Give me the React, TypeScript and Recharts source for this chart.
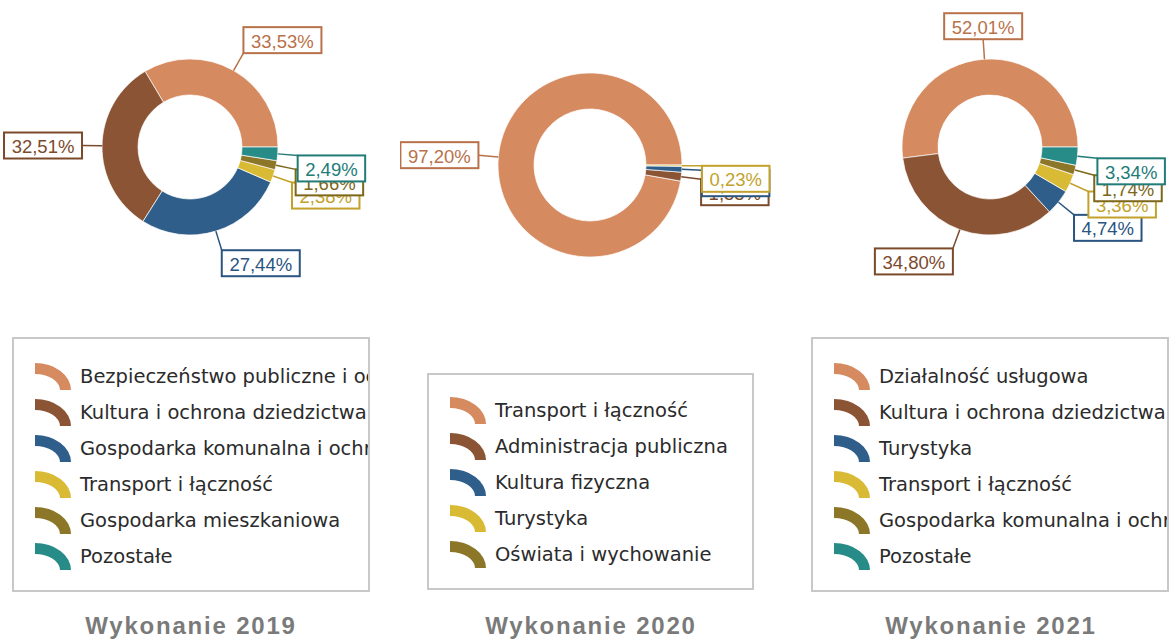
import React from 'react';
import { PieChart, Pie, Cell, Legend } from 'recharts';

// shares in % per year
const names2019 = [
  'Bezpieczeństwo publiczne i ochrona przeciwpożarowa',
  'Kultura i ochrona dziedzictwa narodowego',
  'Gospodarka komunalna i ochrona środowiska',
  'Transport i łączność',
  'Gospodarka mieszkaniowa',
  'Pozostałe',
];
const values2019 = [33.53, 32.51, 27.44, 2.38, 1.66, 2.49];

const names2020 = [
  'Transport i łączność',
  'Administracja publiczna',
  'Kultura fizyczna',
  'Turystyka',
  'Oświata i wychowanie',
];
const values2020 = [97.2, 1.55, 1.02, 0.23, 0];

const names2021 = [
  'Działalność usługowa',
  'Kultura i ochrona dziedzictwa narodowego',
  'Turystyka',
  'Transport i łączność',
  'Gospodarka komunalna i ochrona środowiska',
  'Pozostałe',
];
const values2021 = [52.01, 34.8, 4.74, 3.36, 1.74, 3.34];

const titles = ['Wykonanie 2019', 'Wykonanie 2020', 'Wykonanie 2021'];

const sliceColors = ['#D68A60', '#8B5535', '#2F5E8A', '#D9BA35', '#8C7628', '#278C87'];
const labelColors = ['#B9714A', '#7B4A2B', '#2A5580', '#C2A22C', '#7D6719', '#217C77'];

const fmt = (v: number) => v.toFixed(2).replace('.', ',') + '%';

const renderLabel = (props: any) => {
  const { cx, cy, midAngle, outerRadius, value, index } = props;
  if (!value) return null;
  const rad = Math.PI / 180;
  const cos = Math.cos(-midAngle * rad);
  const sin = Math.sin(-midAngle * rad);
  const sx = cx + outerRadius * cos;
  const sy = cy + outerRadius * sin;
  const ex = cx + (outerRadius + 20) * cos;
  const ey = cy + (outerRadius + 20) * sin;
  const text = fmt(value);
  const w = text.length * 10.5 + 15;
  const h = 26;
  const up = -sin;
  const left = cos > 0.25 ? ex : cos < -0.25 ? ex - w : ex - w / 2;
  const top = up > 0.5 ? ey - h : up < -0.3 ? ey : cos > 0 ? ey : ey - h / 2;
  const col = labelColors[index];
  return (
    <g>
      <line x1={sx} y1={sy} x2={ex} y2={ey} stroke={col} strokeWidth={1.5} />
      <rect x={left} y={top} width={w} height={h} fill="#fff" stroke={col} strokeWidth={2} />
      <text
        x={left + w / 2}
        y={top + h / 2 + 1}
        textAnchor="middle"
        dominantBaseline="central"
        fill={col}
        fontSize={18.5}
        fontFamily="'Liberation Sans', Arial, sans-serif"
      >
        {text}
      </text>
    </g>
  );
};

const LegendIcon = ({ color }: { color: string }) => (
  <svg width={36} height={27} style={{ flex: 'none' }}>
    <path d="M0,0 A36,27 0 0 1 36,27 L25,27 A25,16 0 0 0 0,11 Z" fill={color} />
  </svg>
);

const LegendBox = ({ names, w, h, padTop }: { names: string[]; w: number; h: number; padTop: number }) => (
  <div
    style={{
      boxSizing: 'border-box',
      width: w,
      height: h,
      border: '2px solid #c8c8c8',
      paddingTop: padTop,
      paddingLeft: 21,
      overflow: 'hidden',
      background: '#fff',
    }}
  >
    {names.map((n, i) => (
      <div key={n} style={{ display: 'flex', alignItems: 'center', height: 36, whiteSpace: 'nowrap' }}>
        <LegendIcon color={sliceColors[i]} />
        <span style={{ marginLeft: 9, fontSize: 19.5, fontFamily: "'DejaVu Sans', Verdana, sans-serif", color: '#2b2b2b' }}>
          {n}
        </span>
      </div>
    ))}
  </div>
);

const charts = [
  { names: names2019, values: values2019, left: 0, cy: 147, ir: 52, or: 88, lx: 12, ly: 337, lw: 358, lh: 255, pad: 19 },
  { names: names2020, values: values2020, left: 400, cy: 165, ir: 56, or: 92, lx: 27, ly: 373, lw: 327, lh: 217, pad: 17 },
  { names: names2021, values: values2021, left: 800, cy: 147, ir: 52, or: 88, lx: 11, ly: 337, lw: 358, lh: 255, pad: 19 },
];

export default function App() {
  return (
    <div style={{ position: 'absolute', left: 0, top: 0, width: 1170, height: 643, overflow: 'hidden', background: '#fff' }}>
      {charts.map((c, k) => {
        const data = c.names.map((name, i) => ({ name, value: c.values[i] }));
        return (
          <div key={k} style={{ position: 'absolute', left: c.left, top: 0, width: 400, height: 643 }}>
            <PieChart width={400} height={643} margin={{ top: 0, right: 0, bottom: 0, left: 0 }}>
              <Pie
                data={data}
                dataKey="value"
                nameKey="name"
                cx={190}
                cy={c.cy}
                innerRadius={c.ir}
                outerRadius={c.or}
                startAngle={0}
                endAngle={360}
                stroke="#ffffff"
                strokeWidth={0.7}
                label={renderLabel}
                labelLine={false}
                isAnimationActive={false}
              >
                {data.map((d, i) => (
                  <Cell key={d.name} fill={sliceColors[i]} />
                ))}
              </Pie>
              <Legend
                content={() => <LegendBox names={c.names} w={c.lw} h={c.lh} padTop={c.pad} />}
                wrapperStyle={{ position: 'absolute', left: c.lx, top: c.ly, width: c.lw, height: c.lh, bottom: 'auto' }}
              />
            </PieChart>
            <div
              style={{
                position: 'absolute',
                left: 0,
                top: 612,
                width: 382,
                textAlign: 'center',
                fontFamily: "'Liberation Sans', Arial, sans-serif",
                fontWeight: 'bold',
                fontSize: 24,
                letterSpacing: 1.8,
                color: '#7a7a7a',
                whiteSpace: 'nowrap',
              }}
            >
              {titles[k]}
            </div>
          </div>
        );
      })}
    </div>
  );
}
